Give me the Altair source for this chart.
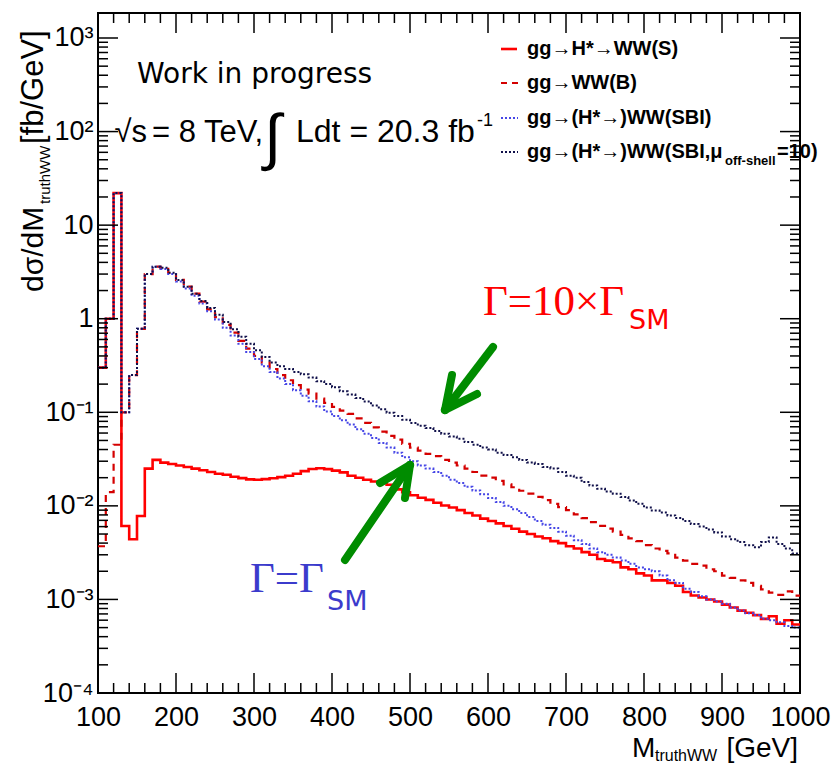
import altair as alt
import pandas as pd

# ---------------- data (10 GeV bins, lower edges 100 ... 990) ----------------
bin_lo = list(range(100, 1000, 10))
x_end = 1000

S_vals = [0.30, 1.0, 22, 0.0061, 0.0044, 0.0078, 0.025, 0.031, 0.029, 0.028,
          0.027, 0.026, 0.025, 0.024, 0.023, 0.022, 0.0215, 0.0205, 0.0198, 0.0192,
          0.0190, 0.0193, 0.0197, 0.0203, 0.021, 0.022, 0.0235, 0.0248, 0.0252, 0.0247,
          0.0238, 0.0228, 0.021, 0.0200, 0.0190, 0.0182, 0.0176, 0.0168, 0.0150, 0.0140,
          0.0130, 0.0122, 0.0116, 0.0108, 0.0101, 0.0096, 0.0090, 0.0084, 0.0079, 0.0073,
          0.0069, 0.0065, 0.0061, 0.0057, 0.0053, 0.0050, 0.0047, 0.0045, 0.0042, 0.0040,
          0.0037, 0.0035, 0.0032, 0.0030, 0.0027, 0.0026, 0.0025, 0.0022, 0.0021, 0.0019,
          0.0018, 0.0016, 0.0016, 0.0015, 0.0014, 0.0012, 0.0011, 0.00105, 0.0010, 0.00095,
          0.00088, 0.00082, 0.00076, 0.00072, 0.00068, 0.00062, 0.00066, 0.00055, 0.00060, 0.00054]

B_vals = [0.0037, 0.014, 0.045, 0.10, 0.25, 0.78, 3.0, 3.6, 3.5, 3.1,
          2.6, 2.2, 1.85, 1.52, 1.26, 1.04, 0.86, 0.71, 0.58, 0.48,
          0.40, 0.34, 0.29, 0.25, 0.22, 0.195, 0.175, 0.158, 0.140, 0.126,
          0.114, 0.104, 0.096, 0.086, 0.077, 0.069, 0.062, 0.056, 0.051, 0.046,
          0.042, 0.039, 0.036, 0.034, 0.031, 0.029, 0.027, 0.025, 0.023, 0.021,
          0.020, 0.0185, 0.017, 0.0158, 0.0145, 0.0135, 0.0125, 0.0115, 0.0105, 0.0097,
          0.0090, 0.0081, 0.0074, 0.0067, 0.0061, 0.0057, 0.0053, 0.0049, 0.0045, 0.0042,
          0.0038, 0.0035, 0.0033, 0.0031, 0.0028, 0.0026, 0.0024, 0.0023, 0.0021, 0.0020,
          0.0018, 0.0017, 0.0016, 0.0015, 0.0014, 0.00128, 0.00118, 0.00112, 0.00122, 0.00110]

SBI_vals = [0.30, 1.0, 22, 0.10, 0.25, 0.78, 3.0, 3.6, 3.4, 3.0,
            2.5, 2.1, 1.76, 1.45, 1.2, 0.98, 0.80, 0.66, 0.54, 0.44,
            0.37, 0.31, 0.27, 0.23, 0.20, 0.172, 0.150, 0.131, 0.115, 0.102,
            0.091, 0.082, 0.074, 0.066, 0.059, 0.053, 0.047, 0.042, 0.037, 0.033,
            0.030, 0.027, 0.025, 0.023, 0.021, 0.019, 0.0175, 0.016, 0.0146, 0.0133,
            0.0121, 0.0110, 0.0100, 0.0092, 0.0084, 0.0076, 0.0069, 0.0063, 0.0058, 0.0053,
            0.0048, 0.0043, 0.0039, 0.0035, 0.0032, 0.0030, 0.0028, 0.0026, 0.0024, 0.0022,
            0.0021, 0.0020, 0.0018, 0.0016, 0.0015, 0.0013, 0.0012, 0.00108, 0.00100, 0.00095,
            0.00090, 0.00082, 0.00076, 0.00071, 0.00068, 0.00062, 0.00060, 0.00057, 0.00052, 0.00050]

SBI10_vals = [0.30, 1.0, 22, 0.10, 0.25, 0.78, 3.0, 3.6, 3.5, 3.1,
              2.6, 2.2, 1.85, 1.55, 1.3, 1.1, 0.92, 0.77, 0.64, 0.54,
              0.46, 0.39, 0.34, 0.31, 0.29, 0.27, 0.255, 0.235, 0.215, 0.20,
              0.185, 0.168, 0.155, 0.142, 0.130, 0.118, 0.108, 0.099, 0.091, 0.083,
              0.077, 0.072, 0.068, 0.063, 0.059, 0.055, 0.052, 0.048, 0.045, 0.042,
              0.040, 0.037, 0.035, 0.033, 0.031, 0.029, 0.028, 0.026, 0.025, 0.023,
              0.021, 0.020, 0.018, 0.0165, 0.0152, 0.0142, 0.0135, 0.0124, 0.0114, 0.0105,
              0.0096, 0.0089, 0.0085, 0.0079, 0.0074, 0.0069, 0.0064, 0.0060, 0.0056, 0.0052,
              0.0047, 0.0044, 0.0041, 0.0038, 0.0036, 0.0041, 0.0046, 0.0039, 0.0035, 0.0031]

x_major = [100, 200, 300, 400, 500, 600, 700, 800, 900, 1000]
x_minor_step = 20
y_exps = [-4, -3, -2, -1, 0, 1, 2, 3]
y_labels = ["10⁻⁴", "10⁻³", "10⁻²", "10⁻¹", "1", "10", "10²", "10³"]
y_domain = [1e-4, 1850]

legend_labels = ["gg→H*→WW(S)", "gg→WW(B)", "gg→(H*→)WW(SBI)", "gg→(H*→)WW(SBI,μ"]

# ---------------- layout ----------------
PL, PT, PR, PB = 98, 13, 32, 71
W, H = 702, 680
FONT = "Liberation Sans"
ONE = pd.DataFrame({"a": [0]})

xscale = alt.Scale(domain=[100, 1000], nice=False, zero=False)
yscale = alt.Scale(type="log", domain=y_domain, nice=False)


def hist_df(vals):
    assert len(vals) == len(bin_lo)
    return pd.DataFrame({"m": bin_lo + [x_end], "v": list(vals) + [vals[-1]]})


y_expr = " : ".join(
    f"round(log(datum.value)/LN10) == {e} ? '{lab}'" for e, lab in zip(y_exps, y_labels)
) + " : ''"

x_axis = alt.Axis(values=x_major, format="d", title=None, ticks=False, domain=False, grid=False,
                  labelFont=FONT, labelFontSize=27, labelColor="black", labelPadding=11,
                  labelFlush=False, labelOverlap=False)
y_axis = alt.Axis(values=[10.0 ** e for e in y_exps], labelExpr=y_expr, title=None,
                  ticks=False, domain=False, grid=False, labelFont=FONT, labelFontSize=27,
                  labelColor="black", labelPadding=5, labelFlush=False, labelOverlap=False,
                  labelBaseline="middle")

XE = alt.X("m:Q", scale=xscale, axis=x_axis)
YE = alt.Y("v:Q", scale=yscale, axis=y_axis)


def hist(vals, color, width, dash=None):
    kw = dict(interpolate="step-after", color=color, strokeWidth=width, clip=True)
    if dash:
        kw["strokeDash"] = dash
    return alt.Chart(hist_df(vals)).mark_line(**kw).encode(x=XE, y=YE)


def xticks(vals, length):
    df = pd.DataFrame({"m": vals})
    base = alt.Chart(df).mark_rule(color="black", strokeWidth=1.5)
    return [base.encode(x=XE, y=alt.value(H), y2=alt.value(H - length)),
            base.encode(x=XE, y=alt.value(0), y2=alt.value(length))]


def yticks(vals, length):
    df = pd.DataFrame({"v": vals})
    base = alt.Chart(df).mark_rule(color="black", strokeWidth=1.5)
    return [base.encode(y=YE, x=alt.value(0), x2=alt.value(length)),
            base.encode(y=YE, x=alt.value(W), x2=alt.value(W - length))]


def txt(s, x, y, size, color="black", font=FONT, weight="normal", align="left",
        baseline="alphabetic", angle=0):
    return alt.Chart(ONE).mark_text(
        text=s, fontSize=size, color=color, font=font, fontWeight=weight,
        align=align, baseline=baseline, angle=angle
    ).encode(x=alt.value(x - PL), y=alt.value(y - PT))


def seg(x1, y1, x2, y2, color, width, dash=None, cap="round"):
    kw = dict(color=color, strokeWidth=width, strokeCap=cap)
    if dash:
        kw["strokeDash"] = dash
    return alt.Chart(ONE).mark_rule(**kw).encode(
        x=alt.value(x1 - PL), y=alt.value(y1 - PT),
        x2=alt.value(x2 - PL), y2=alt.value(y2 - PT))


RED = "#ff0000"
DRED = "#d40000"
BLUE = "#4646e6"
NAVY = "#10104a"
GREEN = "#008c00"

layers = [
    hist(S_vals, RED, 2.6),
    hist(B_vals, DRED, 2.2, dash=[7, 6]),
    hist(SBI_vals, BLUE, 2.0, dash=[2, 2]),
    hist(SBI10_vals, NAVY, 2.0, dash=[2, 2]),
]

x_minor = [v for v in range(100, 1001, x_minor_step) if v not in x_major]
y_minor = [m * 10.0 ** e for e in y_exps for m in range(2, 10) if m * 10.0 ** e <= y_domain[1]]
layers += xticks(x_major, 20) + xticks(x_minor, 10)
layers += yticks([10.0 ** e for e in y_exps], 20) + yticks(y_minor, 10)

# axis titles
layers += [
    txt("dσ/dM", 43, 292, 30, angle=270),
    txt("truthWW", 50, 204, 15, angle=270),
    txt("[fb/GeV]", 43, 144, 31, angle=270),
    txt("M", 632, 757, 28),
    txt("truthWW", 655, 761, 16),
    txt("[GeV]", 798, 757, 28, align="right"),
]

# in-plot labels
layers += [
    txt("Work in progress", 137, 83, 28, font="DejaVu Sans"),
    txt("√s", 147, 142, 31, align="right"),
    txt("= 8 TeV,", 152, 142, 31),
    txt("∫", 264, 158, 62),
    txt("Ldt = 20.3 fb", 296, 142, 32),
    txt("-1", 477, 126, 18),
]

# legend
rows_y = [49, 83, 118, 152]
layers += [
    seg(501, rows_y[0], 517, rows_y[0], RED, 2.6, cap="butt"),
    seg(501, rows_y[1], 518, rows_y[1], DRED, 2.2, dash=[6, 5], cap="butt"),
    seg(501, rows_y[2], 518, rows_y[2], BLUE, 2.0, dash=[2, 2], cap="butt"),
    seg(501, rows_y[3], 518, rows_y[3], NAVY, 2.0, dash=[2, 2], cap="butt"),
]
for lab, yy in zip(legend_labels, rows_y):
    layers.append(txt(lab, 527, yy, 20, weight="bold", baseline="middle"))
layers += [
    txt("off-shell", 725, 161, 13, weight="bold", baseline="middle"),
    txt("=10)", 777, 152, 20, weight="bold", baseline="middle"),
]

# width annotations and arrows
layers += [
    txt("Γ=10×Γ", 483, 315, 43, color=RED, font="Liberation Serif"),
    txt("SM", 629, 329, 27, color=RED, font="DejaVu Sans"),
    txt("Γ=Γ", 250, 592, 43, color="#3b3bcc", font="Liberation Serif"),
    txt("SM", 327, 610, 27, color="#3b3bcc", font="DejaVu Sans"),
    seg(493, 347, 445, 410, GREEN, 8),
    seg(445, 410, 452, 375, GREEN, 8),
    seg(445, 410, 477, 394, GREEN, 8),
    seg(345, 560, 410, 465, GREEN, 8),
    seg(410, 465, 380, 483, GREEN, 8),
    seg(410, 465, 405, 498, GREEN, 8),
]

chart = alt.layer(*layers).properties(
    width=W, height=H,
    padding={"left": PL, "top": PT, "right": PR, "bottom": PB},
    autosize=alt.AutoSizeParams(type="none"),
    background="white",
).configure_view(stroke="black", strokeWidth=2)

chart.save("out.html", embed_options={"renderer": "svg", "actions": False})
